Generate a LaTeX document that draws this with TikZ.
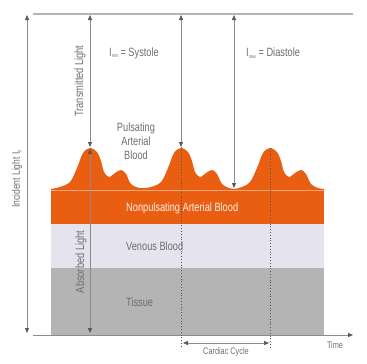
\documentclass[tikz,border=0pt]{standalone}
\usepackage{fontspec}
\setmainfont{Liberation Sans}[FakeStretch=0.77]
\usepackage{xcolor}
\usetikzlibrary{arrows.meta}
\definecolor{blood}{RGB}{233,94,17}
\definecolor{venous}{RGB}{229,228,238}
\definecolor{tissue}{RGB}{180,180,180}
\definecolor{linegray}{RGB}{140,140,140}
\definecolor{tipgray}{RGB}{85,85,85}
\definecolor{txtgray}{RGB}{110,110,110}
\newcommand{\lowidx}[1]{\raisebox{-1.5pt}{\fontsize{5}{5}\selectfont #1}}

\begin{document}
\begin{tikzpicture}[x=1pt, y=-1pt, >={Triangle[length=5pt, width=4pt, color=tipgray]},
    ray/.style={draw=linegray, line width=0.7pt, <->},
    beatline/.style={draw=tipgray, dotted, line width=0.8pt},
    txt/.style={text=txtgray, font=\fontsize{12}{14}\selectfont, inner sep=0pt}]
    \useasboundingbox (0,0) rectangle (367,364);

    % layers
    \fill[tissue] (51,268) rectangle (324,335);
    \fill[venous] (51,224) rectangle (324,268);
    \fill[blood]  (51,190.5) rectangle (324,224);
    \fill[blood] plot[smooth, tension=0.55] coordinates {
        (51,189) (60,187) (70,182) (77,168) (83,153) (90,148) (97,152) (101,161) (104,172) (109,177)
        (115,173) (121,170) (126,174) (131,184) (140,188) (151,187)
        (161,182) (168,168) (174,153) (181,148) (188,152) (192,161) (195,172) (200,177)
        (206,173) (212,170) (217,174) (222,184) (229,188) (234,189) (242,187)
        (250,182) (257,168) (263,153) (270,148) (277,152) (281,161) (284,172) (289,177)
        (295,173) (301,170) (306,174) (311,184) (318,188) (324,189)}
        -- (324,191) -- (51,191) -- cycle;
    \draw[blood!55!white, line width=0.5pt] (51,190.5) -- (324,190.5);

    % axes
    \coordinate (topL) at (33,14);
    \coordinate (topR) at (353,14);
    \coordinate (axL)  at (33,335);
    \coordinate (axR)  at (353,335);
    \draw[draw=tissue, line width=1.3pt] (topL) -- (topR);
    \draw[draw=linegray, line width=0.8pt, ->] (axL) -- (axR);

    % light paths
    \coordinate (inTop) at (27,15);
    \coordinate (inBot) at (27,333);
    \coordinate (trTop) at (90,15);
    \coordinate (peakA) at (90,147);
    \coordinate (abTop) at (90,149);
    \coordinate (abBot) at (90,333);
    \coordinate (syTop) at (181,15);
    \coordinate (peakB) at (181,147);
    \coordinate (diTop) at (234,15);
    \coordinate (trough) at (234,188);
    \coordinate (peakC) at (270,148);
    \draw[ray] (inTop) -- (inBot);
    \draw[ray] (trTop) -- (peakA);
    \draw[ray] (abTop) -- (abBot);
    \draw[ray] (syTop) -- (peakB);
    \draw[ray] (diTop) -- (trough);

    % cardiac cycle
    \coordinate (beatB) at (181,348);
    \coordinate (beatC) at (270,348);
    \coordinate (cyL) at (183,343);
    \coordinate (cyR) at (269,343);
    \draw[beatline] (peakB) -- (beatB);
    \draw[beatline] (peakC) -- (beatC);
    \draw[ray] (cyL) -- (cyR);

    % labels
    \node[txt, rotate=90, font=\fontsize{11}{13}\selectfont] (incident) at (17,179) {Incident Light I\lowidx{0}};
    \node[txt, rotate=90] (transm)   at (80,81)  {Transmitted Light};
    \node[txt, rotate=90] (absorb)   at (81,262) {Absorbed Light};
    \node[txt, anchor=west] (imin)   at (109,53) {I\lowidx{min} = Systole};
    \node[txt, anchor=west] (imax)   at (246,53) {I\lowidx{max} = Diastole};
    \node[txt, align=center] (pulse) at (136,141) {Pulsating\\Arterial\\Blood};
    \node[txt, anchor=west, text=white!92!blood] (nonpulse) at (126,208) {Nonpulsating Arterial Blood};
    \node[txt, anchor=west] (venblood) at (126,246) {Venous Blood};
    \node[txt, anchor=west] (tissuetxt) at (126,302) {Tissue};
    \node[txt, font=\fontsize{9.5}{11}\selectfont] (cardiac) at (226,352) {Cardiac Cycle};
    \node[txt, font=\fontsize{9.5}{11}\selectfont] (time) at (335,345) {Time};
\end{tikzpicture}
\end{document}
